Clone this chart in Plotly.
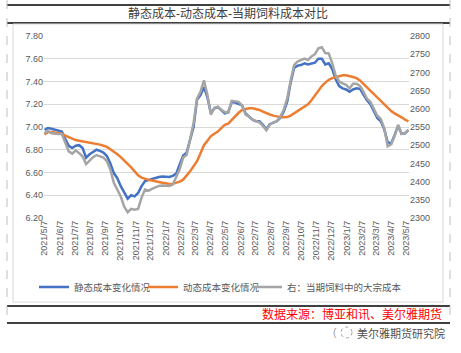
import pandas as pd
import plotly.graph_objects as go

# ---------------- data ----------------
start_date = "2021-05-07"
n_weeks = 106
dates = pd.date_range(start_date, periods=n_weeks, freq="7D")

static_cost = [
    6.975, 6.99, 6.985, 6.975, 6.965, 6.96, 6.893, 6.835, 6.815, 6.835, 6.84, 6.815, 6.73, 6.76,
    6.78, 6.80, 6.79, 6.775, 6.745, 6.68, 6.595, 6.55, 6.48, 6.42, 6.37, 6.40, 6.39,
    6.42, 6.48, 6.525, 6.535, 6.54, 6.55, 6.56, 6.565, 6.56, 6.56, 6.57, 6.59, 6.67, 6.75,
    6.775, 6.89, 7.00, 7.24, 7.28, 7.35, 7.26, 7.12, 7.165, 7.175, 7.15, 7.12,
    7.13, 7.22, 7.215, 7.205, 7.19, 7.12, 7.095, 7.065, 7.05, 7.05, 7.02, 6.98, 7.025, 7.04,
    7.05, 7.08, 7.135, 7.22, 7.39, 7.52, 7.54, 7.545, 7.56, 7.55, 7.56, 7.565,
    7.60, 7.60, 7.55, 7.56, 7.51, 7.42, 7.36, 7.34, 7.33, 7.31, 7.33, 7.34, 7.335, 7.28,
    7.235, 7.20, 7.14, 7.08, 7.05, 6.98, 6.865, 6.855, 6.93, 7.01, 6.94, 6.945, 6.975,
]

dynamic_cost = [
    6.935, 6.955, 6.955, 6.95, 6.945, 6.94, 6.925, 6.91, 6.895, 6.885, 6.88, 6.875, 6.865, 6.86,
    6.855, 6.85, 6.845, 6.835, 6.825, 6.805, 6.785, 6.76, 6.735, 6.705, 6.68, 6.645, 6.61,
    6.575, 6.555, 6.543, 6.535, 6.53, 6.522, 6.515, 6.51, 6.505, 6.50, 6.502, 6.51, 6.52, 6.537,
    6.57, 6.61, 6.655, 6.70, 6.77, 6.84, 6.88, 6.92, 6.94, 6.96, 6.99, 7.02,
    7.03, 7.065, 7.095, 7.125, 7.15, 7.16, 7.165, 7.165, 7.16, 7.15, 7.135, 7.12, 7.11, 7.10,
    7.09, 7.087, 7.085, 7.087, 7.10, 7.12, 7.14, 7.16, 7.18, 7.20, 7.235, 7.28,
    7.32, 7.36, 7.39, 7.415, 7.43, 7.44, 7.45, 7.455, 7.455, 7.45, 7.44, 7.43, 7.41, 7.38,
    7.35, 7.32, 7.29, 7.26, 7.23, 7.20, 7.165, 7.14, 7.12, 7.105, 7.085, 7.065, 7.05,
]

bulk_feed_cost = [
    2533, 2539, 2533, 2531, 2531, 2531, 2506, 2483, 2477, 2486, 2478, 2469, 2448, 2458,
    2467, 2473, 2470, 2466, 2456, 2433, 2397, 2378, 2359, 2331, 2316, 2325, 2323,
    2325, 2356, 2378, 2375, 2380, 2384, 2388, 2389, 2389, 2388, 2392, 2413, 2434, 2466,
    2473, 2516, 2561, 2628, 2647, 2678, 2638, 2584, 2603, 2606, 2597, 2591,
    2589, 2622, 2620, 2619, 2609, 2584, 2578, 2570, 2567, 2563, 2553, 2541, 2556, 2563,
    2566, 2578, 2597, 2628, 2678, 2720, 2730, 2734, 2738, 2734, 2744, 2750,
    2766, 2769, 2753, 2752, 2725, 2691, 2675, 2670, 2666, 2656, 2669, 2669, 2663, 2647,
    2628, 2619, 2602, 2581, 2572, 2547, 2497, 2502, 2525, 2556, 2531, 2533, 2542,
]

tick_dates = [
    "2021-05-07", "2021-06-07", "2021-07-07", "2021-08-07", "2021-09-07", "2021-10-07",
    "2021-11-07", "2021-12-07", "2022-01-07", "2022-02-07", "2022-03-07", "2022-04-07",
    "2022-05-07", "2022-06-07", "2022-07-07", "2022-08-07", "2022-09-07", "2022-10-07",
    "2022-11-07", "2022-12-07", "2023-01-07", "2023-02-07", "2023-03-07", "2023-04-07",
    "2023-05-07",
]
tick_labels = [
    "2021/5/7", "2021/6/7", "2021/7/7", "2021/8/7", "2021/9/7", "2021/10/7",
    "2021/11/7", "2021/12/7", "2022/1/7", "2022/2/7", "2022/3/7", "2022/4/7",
    "2022/5/7", "2022/6/7", "2022/7/7", "2022/8/7", "2022/9/7", "2022/10/7",
    "2022/11/7", "2022/12/7", "2023/1/7", "2023/2/7", "2023/3/7", "2023/4/7",
    "2023/5/7",
]

series_names = ["静态成本变化情况", "动态成本变化情况", "右：当期饲料中的大宗成本"]
title_text = "静态成本-动态成本-当期饲料成本对比"
source_text = "数据来源：博亚和讯、美尔雅期货"
watermark_text = "美尔雅期货研究院"

# ---------------- layout helpers ----------------
W, H = 461, 353
PL, PR, PT, PB = 44, 409, 36, 218  # plot area in pixels


def px(x):
    return (x - PL) / (PR - PL)


def py(y):
    return (PB - y) / (PB - PT)


FONT = "Liberation Sans, Noto Sans CJK SC, sans-serif"

fig = go.Figure()
fig.add_trace(go.Scatter(x=dates, y=static_cost, name=series_names[0], mode="lines",
                         line=dict(color="#4472C4", width=2.5), legend="legend"))
fig.add_trace(go.Scatter(x=dates, y=dynamic_cost, name=series_names[1], mode="lines",
                         line=dict(color="#ED7D31", width=2.5), legend="legend2"))
fig.add_trace(go.Scatter(x=dates, y=bulk_feed_cost, name=series_names[2], mode="lines",
                         line=dict(color="#A5A5A5", width=2.5), yaxis="y2", legend="legend3"))

shapes = []
line_black = dict(color="black", width=1.5)
for yy in (5, 23, 306, 323):
    shapes.append(dict(type="line", xref="paper", yref="paper",
                       x0=px(7), x1=px(450), y0=py(yy), y1=py(yy), line=line_black))
for xx in (7, 450):
    shapes.append(dict(type="line", xref="paper", yref="paper",
                       x0=px(xx), x1=px(xx), y0=py(0), y1=py(323),
                       line=dict(color="#BFBFBF", width=1, dash="dash")))
shapes.append(dict(type="rect", xref="paper", yref="paper",
                   x0=px(13), x1=px(443), y0=py(24), y1=py(302),
                   line=dict(color="#D9D9D9", width=1)))
# small watermark icon
shapes.append(dict(type="circle", xref="paper", yref="paper",
                   x0=px(341), x1=px(352), y0=py(327), y1=py(338),
                   line=dict(color="#9A9A9A", width=1, dash="dot")))

annotations = [
    dict(text=title_text, xref="paper", yref="paper", x=px(228), y=py(14),
         showarrow=False, xanchor="center", yanchor="middle",
         font=dict(family=FONT, size=12, color="#404040")),
    dict(text=source_text, xref="paper", yref="paper", x=px(444), y=py(314),
         showarrow=False, xanchor="right", yanchor="middle",
         font=dict(family=FONT, size=12, color="#FF0000")),
    dict(text=watermark_text, xref="paper", yref="paper", x=px(447), y=py(333),
         showarrow=False, xanchor="right", yanchor="middle",
         font=dict(family=FONT, size=11, color="#505050")),
    dict(text="(", xref="paper", yref="paper", x=px(339), y=py(332),
         showarrow=False, xanchor="right", yanchor="middle",
         font=dict(family=FONT, size=10, color="#9A9A9A")),
]


def legend_at(xpix):
    return dict(orientation="h", xref="container", yref="container",
                x=xpix / W, xanchor="left", y=1 - 287 / H, yanchor="middle",
                font=dict(family=FONT, size=9.5, color="#595959"),
                itemwidth=30, bgcolor="rgba(0,0,0,0)", borderwidth=0)


fig.update_layout(
    width=W, height=H,
    margin=dict(l=PL, r=W - PR, t=PT, b=H - PB),
    paper_bgcolor="white", plot_bgcolor="white",
    font=dict(family=FONT, size=9, color="#595959"),
    showlegend=True,
    legend=legend_at(34),
    legend2=legend_at(143),
    legend3=legend_at(247),
    xaxis=dict(type="date", range=["2021-05-06", "2023-05-13"],
               tickmode="array", tickvals=tick_dates, ticktext=tick_labels,
               tickangle=-90, showgrid=False, showline=False, zeroline=False,
               ticks="", tickfont=dict(size=9, color="#595959")),
    yaxis=dict(range=[6.2, 7.8], dtick=0.2, tickformat=".2f",
               showgrid=True, gridcolor="#D9D9D9", gridwidth=1,
               zeroline=False, showline=False, ticks="",
               tickfont=dict(size=9, color="#595959")),
    yaxis2=dict(range=[2300, 2800], dtick=50, overlaying="y", side="right",
                showgrid=False, zeroline=False, showline=False, ticks="",
                tickfont=dict(size=9, color="#595959")),
    shapes=shapes,
    annotations=annotations,
)

fig.write_html("out.html")
